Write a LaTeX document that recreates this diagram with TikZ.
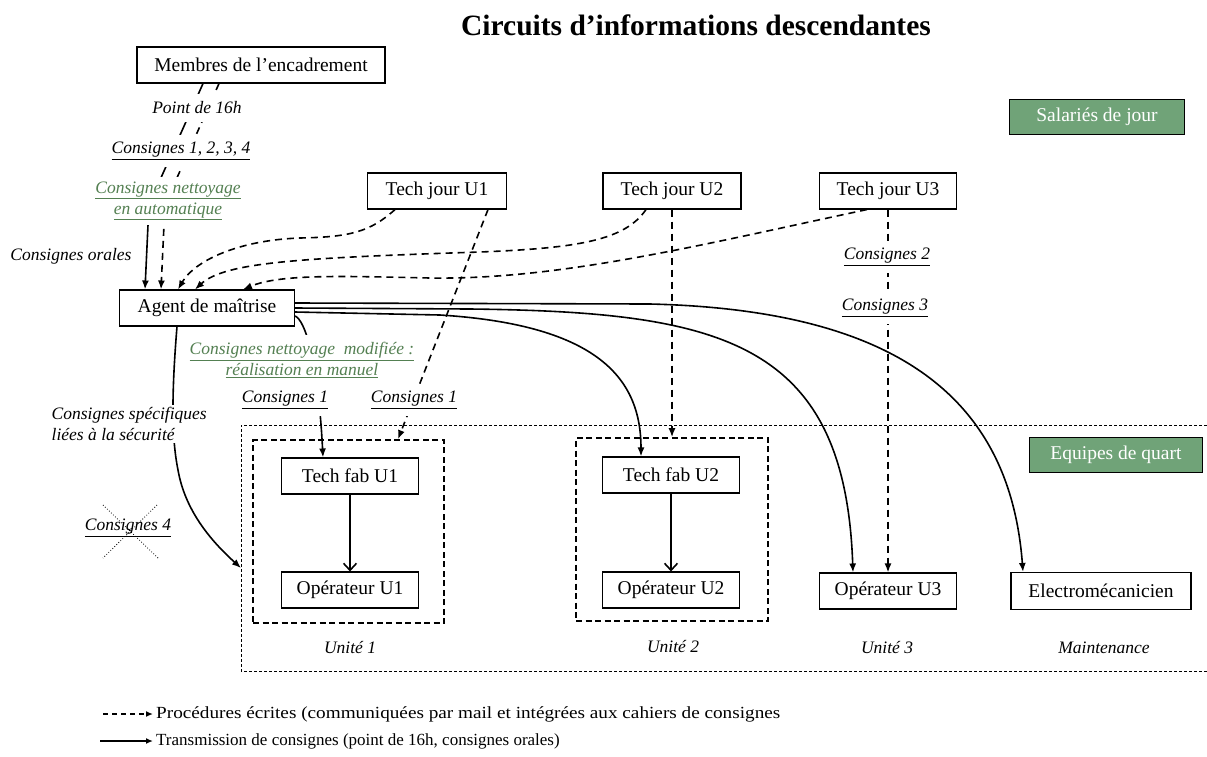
\documentclass[tikz,border=0pt]{standalone}
\usepackage{fontspec}
\setmainfont{Liberation Serif}
\usetikzlibrary{arrows.meta}
\definecolor{gboxc}{RGB}{112,163,120}
\definecolor{gtext}{RGB}{84,128,82}
\begin{document}
\begin{tikzpicture}[x=1pt,y=-1pt,
  box/.style={draw, line width=1.1pt, fill=white, minimum height=36pt, inner sep=0pt, font=\fontsize{19.5}{22}\selectfont},
  gbox/.style={draw, line width=1.1pt, fill=gboxc, text=white, minimum height=35pt, inner sep=0pt, font=\fontsize{19.5}{22}\selectfont},
  lab/.style={fill=white, inner xsep=1.5pt, inner ysep=7pt, font=\itshape\fontsize{17.5}{21}\selectfont},
  glab/.style={lab, text=gtext, align=center},
  unitlab/.style={font=\itshape\fontsize{17.5}{21}\selectfont},
  solidarr/.style={line width=1.6pt, -{Latex[length=9pt,width=7pt]}},
  dasharr/.style={line width=1.6pt, dash pattern=on 7pt off 5pt, -{Latex[length=9pt,width=7pt]}},
  openarr/.style={line width=1.6pt, -{Straight Barb[length=7pt,width=13pt]}},
  ubox/.style={draw, line width=1.6pt, dash pattern=on 6pt off 3.5pt, inner sep=0pt},
  region/.style={draw, line width=0.9pt, dash pattern=on 3pt off 2pt},
  legtext/.style={anchor=west, inner sep=3pt, font=\fontsize{17}{20}\selectfont},
]
\useasboundingbox (0,0) rectangle (1207,756);

% title
\node[font=\bfseries\fontsize{29.5}{33}\selectfont] (title) at (696,25) {Circuits d’informations descendantes};

% region of the shift teams
\draw[region] (1207,425) -- (241,425) -- (241,671) -- (1207,671);
\coordinate (regw) at (241,568);

% unit boxes
\node[ubox, minimum width=191pt, minimum height=183pt] (u1) at (348.5,531.5) {};
\node[ubox, minimum width=192pt, minimum height=183pt] (u2) at (672,529.5) {};

% boxes
\node[box, minimum width=248pt] (mem) at (261,65) {Membres de l’encadrement};
\node[box, minimum width=175pt] (ag) at (207,308) {Agent de maîtrise};
\node[box, minimum width=139pt] (tj1) at (437,191) {Tech jour U1};
\node[box, minimum width=138pt] (tj2) at (672,191) {Tech jour U2};
\node[box, minimum width=137pt] (tj3) at (888,191) {Tech jour U3};
\node[box, minimum width=137pt] (tf1) at (350,476) {Tech fab U1};
\node[box, minimum width=137pt] (op1) at (350,590) {Opérateur U1};
\node[box, minimum width=137pt] (tf2) at (671,475) {Tech fab U2};
\node[box, minimum width=137pt] (op2) at (671,590) {Opérateur U2};
\node[box, minimum width=137pt] (op3) at (888,591) {Opérateur U3};
\node[box, minimum width=180pt, minimum height=37pt] (elec) at (1101,591) {Electromécanicien};
\node[gbox, minimum width=175pt] (sal) at (1097,117) {Salariés de jour};
\node[gbox, minimum width=173pt] (eq) at (1116,455) {Equipes de quart};

% connectors from the management
\draw[solidarr] ([xshift=-58pt]mem.south) -- (160,180) -- (148,225) -- ([xshift=-62pt]ag.north);
\draw[dasharr] ([xshift=-42pt]mem.south) -- (176,180) -- (164,225) -- ([xshift=-46pt]ag.north);

% day technicians to agent
\draw[dasharr] ([xshift=-42pt]tj1.south) .. controls (370,232) and (350,237) .. (300,238) .. controls (240,240) and (195,260) .. ([xshift=-29pt]ag.north);
\draw[dasharr] ([xshift=-26pt]tj2.south) .. controls (625,240) and (580,248) .. (480,252) .. controls (300,258) and (225,262) .. ([xshift=-12pt]ag.north);
\draw[dasharr] ([xshift=-21pt]tj3.south) .. controls (700,245) and (560,280) .. (430,278) .. controls (340,276) and (280,274) .. ([xshift=36pt]ag.north);

% day technicians to units
\draw[dasharr] ([xshift=51pt]tj1.south) -- ([xshift=49.5pt]u1.north);
\draw[dasharr] (tj2.south) -- (u2.north);
\draw[dasharr] (tj3.south) -- (op3.north);

% agent to teams
\draw[solidarr] ([yshift=-4pt]ag.east) -- (440,315) .. controls (600,325) and (641,380) .. ([xshift=-30pt]tf2.north);
\draw[solidarr] (ag.east) -- (470,309) .. controls (720,312) and (845,340) .. ([xshift=-35pt]op3.north);
\draw[solidarr] ([yshift=5pt]ag.east) -- (650,304) .. controls (900,310) and (1010,400) .. ([xshift=-78pt]elec.north);
\draw[solidarr] ([yshift=-8pt]ag.east) .. controls (305,320) and (318,360) .. ([xshift=-27pt]tf1.north);
\draw[solidarr] ([xshift=-30pt]ag.south) .. controls (171,400) and (172,440) .. (178,470) .. controls (185,510) and (210,540) .. (regw);

% inside units
\draw[openarr] (tf1) -- (op1);
\draw[openarr] (tf2) -- (op2);

% labels
\node[lab, inner ysep=8pt] (pt16) at (197,108) {Point de 16h};
\node[lab] (c1234) at (181,151) {\underline{Consignes 1, 2, 3, 4}};
\node[glab, inner ysep=5pt] (cnaut) at (168,201) {\underline{Consignes nettoyage}\\\underline{en automatique}};
\node[lab, fill=none] (corales) at (71,256) {Consignes orales};
\node[lab] (c2) at (887,257) {\underline{Consignes 2}};
\node[lab] (c3) at (885,308) {\underline{Consignes 3}};
\node[lab] (cons1a) at (285,400) {\underline{Consignes 1}};
\node[glab, inner ysep=7pt] (cnm) at (302,360) {\underline{Consignes nettoyage\ \ modifiée~:}\\\underline{réalisation en manuel}};
\node[lab] (cons1b) at (414,400) {\underline{Consignes 1}};
\node[lab, inner ysep=2pt, align=left, anchor=west] (csec) at (50,424) {Consignes spécifiques\\liées à la sécurité};
\node[lab, fill=none] (c4) at (128,528) {\underline{Consignes 4}};
\draw[line width=0.8pt, dotted] (103,505) -- (158,558);
\draw[line width=0.8pt, dotted] (157,505) -- (103,558);

\node[unitlab] (un1) at (350,647) {Unité 1};
\node[unitlab] (un2) at (673,646) {Unité 2};
\node[unitlab] (un3) at (887,647) {Unité 3};
\node[unitlab] (mnt) at (1104,648) {Maintenance};

% legend
\coordinate (l1s) at (103,714);
\coordinate (l2s) at (100,741);
\node[legtext] (leg1) at (153,714) {\scalebox{1.13}[1]{Procédures écrites (communiquées par mail et intégrées aux cahiers de consignes}};
\node[legtext] (leg2) at (153,741) {Transmission de consignes (point de 16h, consignes orales)};
\draw[line width=1.4pt, dash pattern=on 5pt off 4pt, -{Latex[length=7pt,width=6pt]}] (l1s) -- (leg1.west);
\draw[line width=1.4pt, -{Latex[length=7pt,width=6pt]}] (l2s) -- (leg2.west);
\end{tikzpicture}
\end{document}
